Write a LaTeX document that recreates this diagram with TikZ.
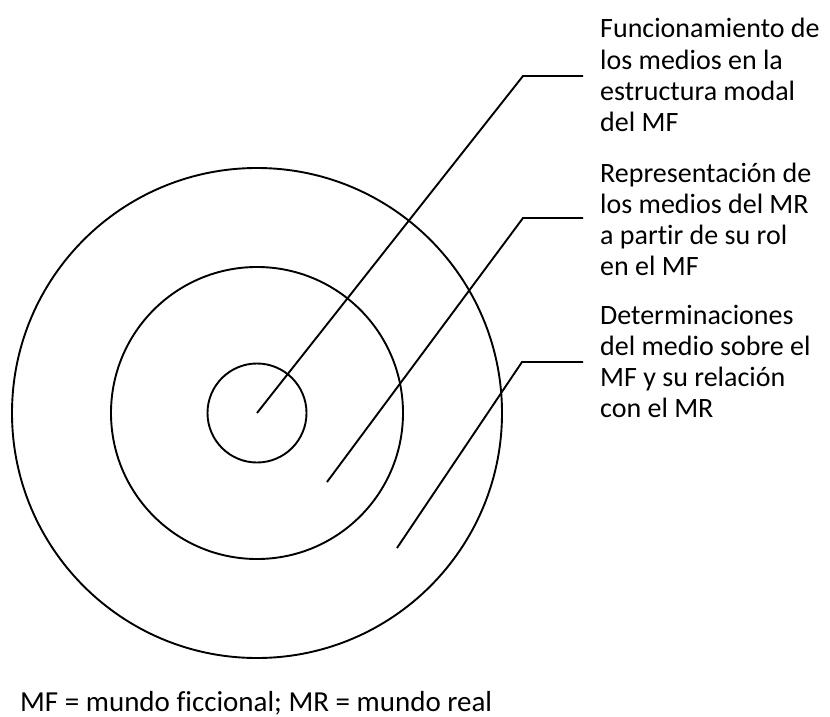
\documentclass[tikz,border=0pt]{standalone}
\usepackage{fontspec}
\setmainfont{Carlito}[Ligatures=CommonOff]
\begin{document}
\begin{tikzpicture}[x=1pt,y=-1pt,
  ring/.style={circle,draw,line width=1.9pt,inner sep=0pt},
  leader/.style={line width=1.9pt},
  label/.style={align=left,inner sep=0pt,font=\fontsize{28}{31}\selectfont}]
\useasboundingbox[fill=white] (0,0) rectangle (830,717);
\coordinate (c) at (257,413);
\node[ring,minimum size=490pt] (outer) at (c) {};
\node[ring,minimum size=292pt] (middle) at (c) {};
\node[ring,minimum size=99pt] (inner) at (c) {};
\node[label,anchor=base west] (t1) at (600,131) {Funcionamiento de\\los medios en la\\estructura modal\\del MF};
\node[label,anchor=base west] (t2) at (600,275) {Representación de\\los medios del MR\\a partir de su rol\\en el MF};
\node[label,anchor=base west] (t3) at (600,417) {Determinaciones\\del medio sobre el\\MF y su relación\\con el MR};
\coordinate (s1) at (257,413);
\coordinate (s2) at (327,482);
\coordinate (s3) at (397,548);
\coordinate (k1) at (523,76);
\coordinate (k2) at (523,218);
\coordinate (k3) at (522,362);
\draw[leader] (s1) -- (k1) -- ([xshift=-17pt]t1.west |- k1);
\draw[leader] (s2) -- (k2) -- ([xshift=-17pt]t2.west |- k2);
\draw[leader] (s3) -- (k3) -- ([xshift=-17pt]t3.west |- k3);
\node[anchor=base west,inner sep=0pt,font=\fontsize{29}{31}\selectfont] (note) at (20,711) {MF = mundo ficcional; MR = mundo real};
\end{tikzpicture}
\end{document}
